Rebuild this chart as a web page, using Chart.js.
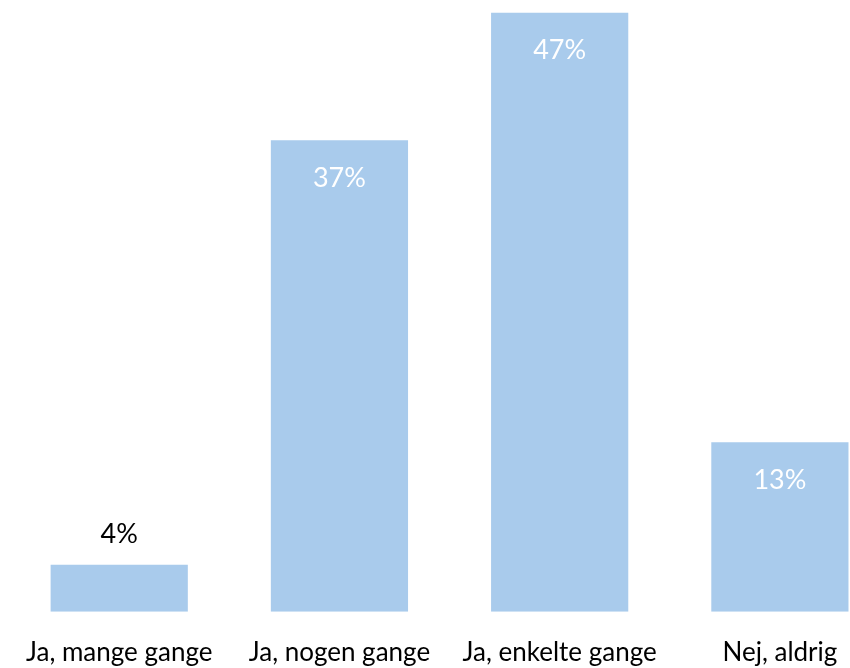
<!DOCTYPE html>
<html>
<head>
<meta charset="utf-8">
<script src="https://cdn.jsdelivr.net/npm/chart.js@4"></script>
<style>
  html, body { margin: 0; padding: 0; overflow: hidden; background: #fff; }
  #wrap { width: 900px; height: 668px; }
</style>
</head>
<body>
<div id="wrap"><canvas id="myChart" width="900" height="668"></canvas></div>
<script>
// answers (categories) and share of respondents in %
let categories = ['Ja, mange gange', 'Ja, nogen gange', 'Ja, enkelte gange', 'Nej, aldrig'];
let shares = [3.7, 37, 47, 13.3];

let barColor = '#A9CBEC';
let fontName = 'Lato, "Open Sans", sans-serif';

// draws the % labels, white inside tall bars, black above short ones
let valueLabels = {
    id: 'valueLabels',
    afterDatasetsDraw(chart) {
        let ctx = chart.ctx;
        let meta = chart.getDatasetMeta(0);
        ctx.save();
        ctx.font = '27px ' + fontName;
        ctx.textAlign = 'center';
        ctx.textBaseline = 'middle';
        meta.data.forEach(function(bar, i) {
            let txt = Math.round(shares[i]) + '%';
            let h = bar.base - bar.y;
            if (h > 90) {
                ctx.fillStyle = '#ffffff';
                ctx.fillText(txt, bar.x, bar.y + 38);
            } else {
                ctx.fillStyle = '#000000';
                ctx.fillText(txt, bar.x, bar.y - 30);
            }
        });
        ctx.restore();
    }
};

let ctx = document.getElementById('myChart');
new Chart(ctx, {
    type: 'bar',
    data: {
        labels: categories,
        datasets: [{
            data: shares,
            backgroundColor: barColor,
            borderWidth: 0,
            categoryPercentage: 1,
            barPercentage: 0.623
        }]
    },
    options: {
        responsive: false,
        animation: false,
        layout: { padding: { left: 8, right: 10, top: 0, bottom: -25 } },
        plugins: {
            legend: { display: false },
            tooltip: { enabled: false }
        },
        scales: {
            x: {
                grid: { display: false, drawTicks: false },
                border: { display: false },
                ticks: {
                    color: '#000000',
                    padding: 25,
                    maxRotation: 0,
                    autoSkip: false,
                    font: { family: fontName, size: 26 }
                }
            },
            y: {
                display: false,
                min: 0,
                max: 48
            }
        }
    },
    plugins: [valueLabels]
});
</script>
</body>
</html>
